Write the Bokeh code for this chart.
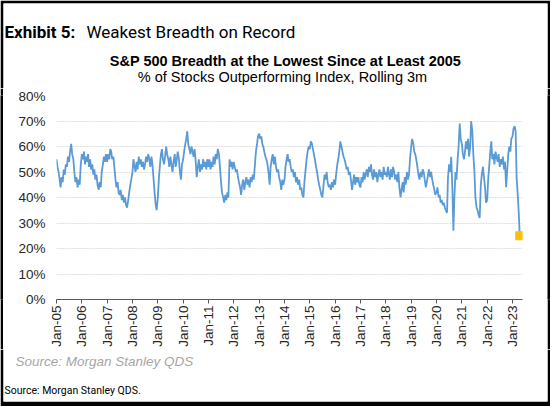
import pandas as pd
from bokeh.plotting import figure
from bokeh.layouts import column, row
from bokeh.models import (ColumnDataSource, FixedTicker, PrintfTickFormatter,
                          DatetimeTickFormatter, Range1d)
from bokeh.core.properties import value
from bokeh.embed import file_html
from bokeh.resources import INLINE

# % of S&P 500 stocks outperforming the index, rolling 3m (read off the chart,
# one value per half month, 1st and 15th, starting Jan 2005)
breadth_pct = [
    55, 52, 50, 47, 44, 48, 46, 51, 49, 53, 52, 56, 54, 58, 61, 57, 55, 50, 46, 48, 44, 47, 45, 52,  # 2005
    57, 55, 58, 53, 56, 54, 57, 52, 55, 51, 53, 49, 51, 47, 49, 45, 43, 46, 44, 50, 53, 56, 54, 57,  # 2006
    54, 57, 55, 59, 58, 55, 56, 52, 47, 44, 46, 42, 41, 43, 39, 41, 38, 40, 37, 36, 39, 42, 45, 47,  # 2007
    50, 55, 52, 50, 54, 51, 56, 53, 55, 52, 54, 51, 53, 56, 54, 57, 55, 52, 56, 53, 47, 42, 37, 35,  # 2008
    40, 47, 53, 57, 59, 55, 53, 56, 60, 57, 55, 52, 56, 53, 50, 54, 57, 52, 55, 58, 55, 50, 47, 53,  # 2009
    55, 58, 61, 63, 66, 61, 59, 57, 60, 58, 56, 59, 54, 48, 52, 55, 50, 53, 51, 55, 52, 54, 51, 55,  # 2010
    52, 55, 51, 54, 52, 56, 53, 57, 55, 59, 57, 52, 46, 42, 40, 38, 41, 39, 42, 40, 55, 52, 54, 51,  # 2011
    54, 52, 50, 51, 48, 46, 44, 41, 45, 47, 43, 46, 48, 45, 47, 44, 48, 46, 49, 47, 53, 58, 61, 64,  # 2012
    65, 63, 64, 61, 60, 58, 56, 55, 53, 50, 45, 52, 55, 57, 53, 56, 52, 50, 51, 48, 46, 43, 47, 45,  # 2013
    47, 52, 55, 57, 54, 55, 52, 50, 51, 48, 50, 46, 48, 45, 47, 43, 44, 41, 40, 46, 51, 55, 58, 60,  # 2014
    59, 62, 61, 59, 57, 55, 52, 50, 47, 45, 43, 41, 40, 44, 49, 47, 50, 46, 44, 45, 43, 46, 44, 47,  # 2015
    45, 49, 53, 55, 58, 62, 60, 58, 56, 55, 53, 51, 52, 49, 50, 47, 43, 46, 49, 45, 48, 46, 48, 45,  # 2016
    44, 48, 46, 50, 47, 49, 51, 48, 52, 50, 53, 49, 47, 51, 48, 50, 46, 49, 51, 48, 50, 47, 52, 49,  # 2017
    50, 48, 52, 49, 47, 51, 48, 52, 50, 47, 49, 46, 50, 44, 40, 43, 46, 42, 48, 45, 50, 47, 49, 55,  # 2018
    60, 63, 61, 58, 57, 55, 52, 49, 47, 50, 48, 51, 50, 47, 44, 46, 49, 51, 48, 50, 47, 45, 43, 41,  # 2019
    42, 44, 40, 41, 38, 39, 37, 38, 36, 35, 34, 48, 53, 50, 56, 45, 27, 40, 50, 47, 55, 60, 69, 63,  # 2020
    61, 57, 55, 58, 62, 59, 63, 56, 60, 70, 66, 57, 50, 40, 36, 35, 33, 32, 45, 49, 52, 48, 44, 38,  # 2021
    39, 47, 53, 58, 62, 55, 57, 53, 58, 56, 54, 57, 52, 55, 53, 56, 51, 54, 44, 50, 57, 60, 58, 63,  # 2022
    64, 67, 68, 66, 48, 42, 34, 25,                                                                  # 2023
]
latest_pct = 25
y_ticks = [0, 10, 20, 30, 40, 50, 60, 70, 80]
x_tick_years = list(range(2005, 2024))

heading_bold = "Exhibit 5:"
heading = "Weakest Breadth on Record"
chart_title = "S&P 500 Breadth at the Lowest Since at Least 2005"
chart_subtitle = "% of Stocks Outperforming  Index, Rolling 3m"
chart_source = "Source: Morgan Stanley QDS"
footnote = "Source: Morgan Stanley QDS."

BLUE = "#5B9BD5"
GOLD = "#FFC000"
W, H_TOP, H_MID, H_BOT = 550, 88, 261, 57


def text_panel(height, top, bottom, border_bottom=0):
    """Plain strip with a black page frame around it, for the texts."""
    f = figure(width=W, height=height, x_range=Range1d(3, W - 3), y_range=Range1d(bottom, top),
               x_axis_location=None, y_axis_location=None,
               min_border_left=3, min_border_right=3,
               min_border_top=3 if top == 3 else 0, min_border_bottom=border_bottom,
               border_fill_color="black", background_fill_color="white",
               output_backend="svg", toolbar_location=None)
    f.outline_line_color = None
    f.grid.visible = False
    return f


def put(f, x, y, txt, font="Liberation Sans", size="14px", style="normal",
        color="black", align="left"):
    f.text(x=[x], y=[y], text=[txt], text_font=value(font), text_font_size=size,
           text_font_style=style, text_color=color, text_align=align,
           text_baseline="alphabetic")


# header
top = text_panel(H_TOP, 3, H_TOP)
put(top, 4, 31.5, heading_bold, font="Roboto", size="17px", style="bold")
put(top, 86, 31.5, heading, font="Roboto", size="17px")
put(top, 285, 60, chart_title, size="14.5px", style="bold", align="center")
put(top, 284, 76.5, chart_subtitle, size="14.5px", align="center")

# chart
dates = pd.date_range("2005-01-01", periods=len(breadth_pct), freq="SMS")
source = ColumnDataSource(data=dict(date=dates, pct=breadth_pct))
last = ColumnDataSource(data=dict(date=[dates[-1]], pct=[latest_pct]))

p = figure(width=W - 6, height=H_MID, x_axis_type="datetime",
           x_range=Range1d(pd.Timestamp("2005-01-01"), pd.Timestamp("2023-05-25")),
           y_range=Range1d(0, 80),
           output_backend="svg", toolbar_location=None,
           min_border_left=53, min_border_right=25,
           min_border_top=7, min_border_bottom=50)
p.outline_line_color = None

p.line("date", "pct", source=source, color=BLUE, line_width=1.8)
p.scatter("date", "pct", source=last, marker="square", size=8,
          color=GOLD, line_color=GOLD)

p.yaxis.ticker = FixedTicker(ticks=y_ticks)
p.yaxis.formatter = PrintfTickFormatter(format="%d%%")
p.yaxis.axis_line_color = None
p.yaxis.major_tick_line_color = None
p.yaxis.major_tick_out = 0
p.yaxis.major_tick_in = 0
p.yaxis.minor_tick_line_color = None
p.yaxis.minor_tick_out = 0
p.yaxis.major_label_standoff = 11
p.yaxis.major_label_text_font = "Liberation Sans"
p.yaxis.major_label_text_font_size = "13.5px"
p.yaxis.major_label_text_color = "#262626"

jan_ticks = [pd.Timestamp(f"{y}-01-01").value / 1e6 for y in x_tick_years]
p.xaxis.ticker = FixedTicker(ticks=jan_ticks)
p.xaxis.formatter = DatetimeTickFormatter(years="%b-%y", months="%b-%y", days="%b-%y")
p.xaxis.major_label_orientation = 1.5708
p.xaxis.axis_line_color = "#595959"
p.xaxis.major_tick_line_color = "#595959"
p.xaxis.major_tick_out = 4
p.xaxis.major_tick_in = 0
p.xaxis.minor_tick_line_color = None
p.xaxis.major_label_standoff = 2
p.xaxis.major_label_text_font = "Liberation Sans"
p.xaxis.major_label_text_font_size = "13.5px"
p.xaxis.major_label_text_color = "#262626"

p.xgrid.grid_line_color = None
p.ygrid.ticker = FixedTicker(ticks=y_ticks[1:-1])
p.ygrid.grid_line_color = "#DDDDDD"
p.ygrid.grid_line_dash = "2 1"


def bar():
    b = figure(width=3, height=H_MID, x_axis_location=None, y_axis_location=None,
               min_border=0, border_fill_color="black", background_fill_color="black",
               output_backend="svg", toolbar_location=None)
    b.outline_line_color = None
    b.grid.visible = False
    return b


# footer
bottom = text_panel(H_BOT, H_TOP + H_MID, H_TOP + H_MID + H_BOT - 5, border_bottom=5)
put(bottom, 15, 361, chart_source, size="13.5px", style="italic", color="#A6A6A6")
put(bottom, 4, 390, footnote, font="Roboto", size="10.5px")

layout = column(top, row(bar(), p, bar()), bottom)
open("out.html", "w").write(file_html(layout, INLINE))
